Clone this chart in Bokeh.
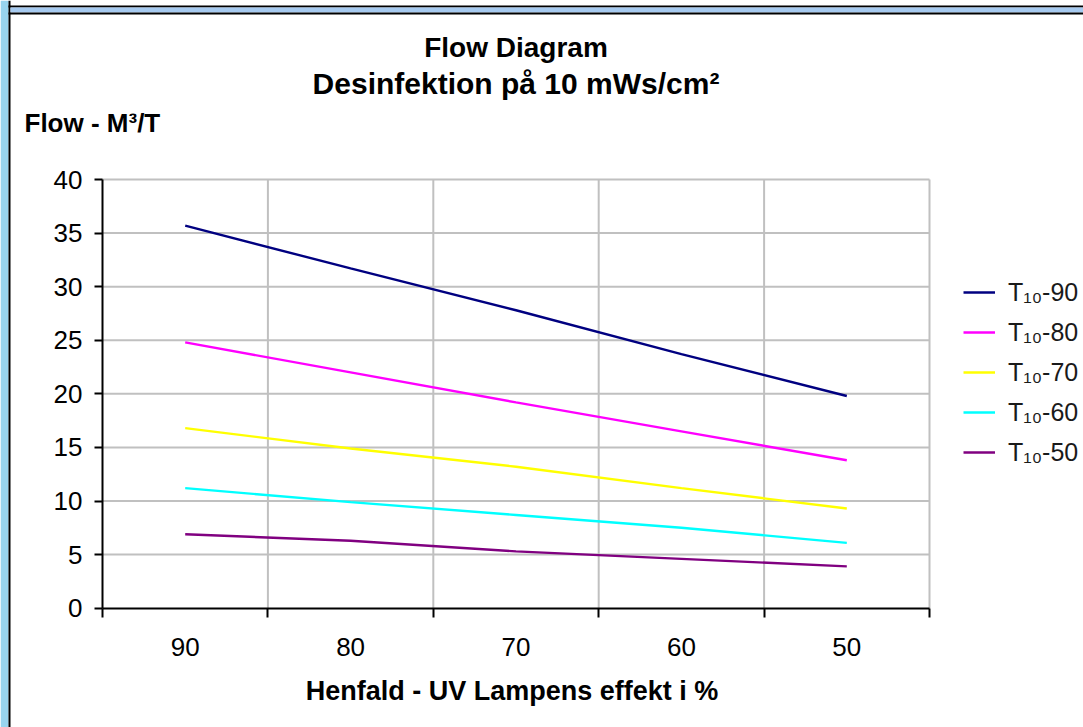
from bokeh.plotting import figure
from bokeh.models import Range1d, FixedTicker, Legend, LegendItem, Label, BoxAnnotation
from bokeh.embed import file_html
from bokeh.resources import INLINE

# ---- data ----
categories = ["90", "80", "70", "60", "50"]
series_names = ["T\u2081\u2080-90", "T\u2081\u2080-80", "T\u2081\u2080-70",
                "T\u2081\u2080-60", "T\u2081\u2080-50"]
t90 = [35.7, 31.7, 27.8, 23.7, 19.8]
t80 = [24.8, 22.0, 19.2, 16.5, 13.8]
t70 = [16.8, 14.9, 13.2, 11.2, 9.3]
t60 = [11.2, 9.9, 8.7, 7.5, 6.1]
t50 = [6.9, 6.3, 5.3, 4.6, 3.9]
y_ticks = [0, 5, 10, 15, 20, 25, 30, 35, 40]
colors = ["#000080", "#FF00FF", "#FFFF00", "#00FFFF", "#800080"]

FONT = "Liberation Sans"

# ---- layout constants (pixels) ----
W, H = 1083, 727            # canvas size (page origin)
PL, PR = 102, 929           # plot-area left / right (page px)
PT, PB = 179, 607.7         # plot-area top / bottom (page px)

n = len(categories)
y_max = y_ticks[-1]
xs = [i + 0.5 for i in range(n)]      # category centres
bounds = list(range(n + 1))           # category boundaries

ux = (PR - PL) / n
uy = (PB - PT) / y_max
x_range = Range1d(-PL / ux, n + (W - PR) / ux)
y_range = Range1d(-(H - PB) / uy, y_max + PT / uy)

p = figure(width=W, height=H, output_backend="svg", toolbar_location=None,
           x_range=x_range, y_range=y_range, min_border=0)
p.outline_line_color = None
p.background_fill_color = "white"
p.border_fill_color = "white"
p.grid.visible = False


def band(x0, x1, y0, y1, color):
    """Decorative frame band given in page pixels (top-left origin)."""
    p.add_layout(BoxAnnotation(left=x0, right=x1, bottom=H - y1, top=H - y0,
                               left_units="screen", right_units="screen",
                               bottom_units="screen", top_units="screen",
                               fill_color=color, fill_alpha=1, line_color=None,
                               level="underlay"))


band(0, 8, 0, H, "#98D4EE")
band(8, 10, 0, H, "#000000")
band(8, W, 5, 7, "#000000")
band(10, W, 7, 12, "#A6CAF0")
band(8, W, 12, 14, "#000000")

# ---- gridlines (inside the plot area only) ----
p.segment(x0=[0] * (len(y_ticks) - 1), x1=[n] * (len(y_ticks) - 1),
          y0=y_ticks[1:], y1=y_ticks[1:], line_color="#C0C0C0", line_width=2)
p.segment(x0=bounds[1:], x1=bounds[1:], y0=[0] * n, y1=[y_max] * n,
          line_color="#C0C0C0", line_width=2)

# ---- series ----
renderers = []
for vals, c in zip([t90, t80, t70, t60, t50], colors):
    renderers.append(p.line(xs, vals, line_color=c, line_width=2.4))

# ---- x axis ----
xa = p.xaxis[0]
xa.fixed_location = 0
xa.bounds = (0, n)
xa.ticker = FixedTicker(ticks=xs, minor_ticks=bounds)
xa.major_label_overrides = {x: c for x, c in zip(xs, categories)}
xa.major_tick_line_color = None
xa.major_tick_out = 0
xa.major_tick_in = 0
xa.minor_tick_out = 9
xa.minor_tick_in = 0
xa.minor_tick_line_color = "black"
xa.minor_tick_line_width = 2
xa.axis_line_color = "black"
xa.axis_line_width = 2
xa.major_label_text_font = FONT
xa.major_label_text_font_size = "26px"
xa.major_label_text_color = "black"
xa.major_label_standoff = 21

# ---- y axis ----
ya = p.yaxis[0]
ya.fixed_location = 0
ya.bounds = (0, y_max)
ya.ticker = FixedTicker(ticks=y_ticks, minor_ticks=[])
ya.major_tick_out = 8
ya.major_tick_in = 0
ya.major_tick_line_color = "black"
ya.major_tick_line_width = 2
ya.axis_line_color = "black"
ya.axis_line_width = 2
ya.major_label_text_font = FONT
ya.major_label_text_font_size = "26px"
ya.major_label_text_color = "black"
ya.major_label_standoff = 12


def add_text(text, page_x, page_y, size, align="center"):
    p.add_layout(Label(x=page_x, y=H - page_y, x_units="screen",
                       y_units="screen", text=text, text_align=align,
                       text_baseline="middle", text_font=FONT,
                       text_font_style="bold", text_font_size=size,
                       text_color="black"))


mid_x = (PL + PR) / 2
add_text("Flow Diagram", mid_x, 47, "28px")
add_text("Desinfektion på 10 mWs/cm²", mid_x, 83, "30px")
add_text("Flow - M³/T", 24, 122, "26px", align="left")
add_text("Henfald - UV Lampens effekt i %", mid_x - 4, 690, "27px")

# ---- legend ----
legend = Legend(items=[LegendItem(label=s, renderers=[r]) for s, r in zip(series_names, renderers)],
                location=(963, H - 466.5), orientation="vertical",
                label_text_font=FONT, label_text_font_size="25px",
                label_text_color="#1A1A1A", glyph_width=32, glyph_height=20,
                label_height=20, label_standoff=13, spacing=11, padding=0,
                margin=0, border_line_color=None, background_fill_alpha=0)
p.add_layout(legend, "center")

open("out.html", "w").write(file_html(p, INLINE))
